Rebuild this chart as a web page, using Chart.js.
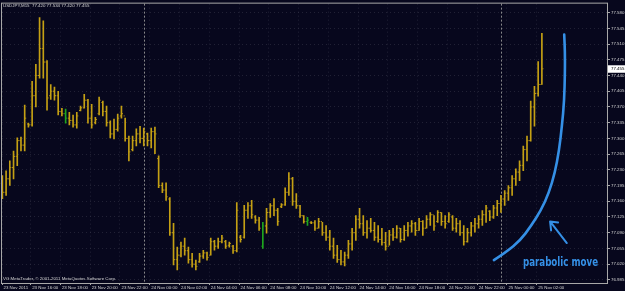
<!DOCTYPE html>
<html><head><meta charset="utf-8">
<script src="https://cdn.jsdelivr.net/npm/chart.js@4/dist/chart.umd.min.js"></script>
<style>html,body{margin:0;padding:0;background:#07071d;overflow:hidden}#wrap{position:relative;width:625px;height:291px}</style>
</head><body><div id="wrap"><canvas id="c" width="625" height="291"></canvas></div>
<script>
// ---- data (M15 bars, index 0 = 23 Nov 2011 14:30) ----
const symbolLabel = "USDJPY,M15";
const copyrightText = "VG MetaTrader, \u00a9 2001-2011 MetaQuotes Software Corp.";
const opens = [77.200,77.180,77.210,77.235,77.260,77.295,77.285,77.332,77.330,77.395,
77.440,77.500,77.470,77.395,77.405,77.395,77.360,77.355,77.345,77.340,
77.330,77.362,77.368,77.385,77.345,77.335,77.355,77.380,77.360,77.335,
77.310,77.320,77.350,77.350,77.300,77.275,77.295,77.310,77.300,77.310,
77.295,77.315,77.255,77.195,77.185,77.165,77.090,77.030,77.040,77.060,
77.050,77.030,77.020,77.025,77.038,77.045,77.040,77.070,77.060,77.070,
77.070,77.062,77.060,77.050,77.080,77.080,77.140,77.150,77.125,77.118,
77.060,77.105,77.135,77.150,77.140,77.148,77.152,77.180,77.210,77.160,
77.150,77.128,77.115,77.113,77.112,77.100,77.115,77.090,77.080,77.060,
77.040,77.030,77.025,77.040,77.065,77.090,77.120,77.110,77.090,77.100,
77.095,77.080,77.075,77.068,77.060,77.085,77.080,77.100,77.075,77.095,
77.105,77.110,77.095,77.115,77.100,77.120,77.130,77.115,77.135,77.115,
77.115,77.125,77.100,77.110,77.090,77.070,77.090,77.105,77.110,77.120,
77.130,77.138,77.125,77.145,77.155,77.165,77.178,77.190,77.210,77.225,
77.240,77.275,77.295,77.370,77.400,77.420];
const highs = [77.217,77.228,77.250,77.272,77.301,77.303,77.374,77.334,77.427,77.465,
77.569,77.562,77.473,77.420,77.414,77.405,77.367,77.365,77.358,77.352,
77.358,77.372,77.398,77.387,77.376,77.347,77.392,77.383,77.372,77.339,
77.343,77.354,77.372,77.345,77.305,77.305,77.321,77.327,77.323,77.312,
77.323,77.325,77.261,77.201,77.201,77.168,77.111,77.058,77.069,77.078,
77.058,77.044,77.029,77.044,77.051,77.047,77.078,77.073,77.078,77.084,
77.073,77.069,77.062,77.157,77.084,77.151,77.157,77.162,77.128,77.124,
77.113,77.144,77.155,77.166,77.144,77.155,77.190,77.224,77.213,77.177,
77.151,77.128,77.124,77.115,77.117,77.122,77.113,77.106,77.095,77.078,
77.062,77.051,77.047,77.073,77.100,77.128,77.144,77.128,77.117,77.122,
77.113,77.106,77.100,77.091,77.095,77.100,77.106,77.100,77.106,77.113,
77.117,77.113,77.122,77.117,77.128,77.135,77.128,77.139,77.135,77.128,
77.135,77.128,77.122,77.117,77.106,77.100,77.113,77.122,77.128,77.139,
77.151,77.139,77.151,77.162,77.173,77.184,77.195,77.217,77.232,77.250,
77.283,77.305,77.383,77.416,77.471,77.534];
const lows = [77.166,77.173,77.195,77.210,77.239,77.272,77.272,77.325,77.327,77.370,
77.434,77.434,77.363,77.387,77.385,77.352,77.350,77.334,77.330,77.325,
77.323,77.361,77.367,77.334,77.323,77.332,77.352,77.350,77.327,77.301,
77.299,77.316,77.345,77.294,77.250,77.272,77.283,77.290,77.283,77.283,
77.279,77.266,77.190,77.179,77.162,77.084,77.018,77.007,77.036,77.040,
77.022,77.013,77.007,77.024,77.033,77.029,77.040,77.051,77.055,77.067,
77.055,77.058,77.044,77.047,77.069,77.078,77.122,77.122,77.111,77.095,
77.055,77.089,77.124,77.128,77.106,77.146,77.151,77.173,77.151,77.144,
77.124,77.111,77.106,77.110,77.095,77.100,77.084,77.073,77.051,77.033,
77.024,77.018,77.016,77.033,77.051,77.073,77.100,77.084,77.078,77.091,
77.073,77.069,77.062,77.051,77.062,77.073,77.078,77.069,77.073,77.082,
77.091,77.084,77.095,77.084,77.100,77.106,77.095,77.113,77.106,77.100,
77.113,77.095,77.091,77.084,77.062,77.069,77.082,77.091,77.100,77.106,
77.113,77.117,77.122,77.128,77.135,77.151,77.162,77.173,77.195,77.206,
77.228,77.250,77.294,77.327,77.394,77.420];
const closes = [77.180,77.210,77.235,77.260,77.295,77.285,77.345,77.330,77.395,77.440,
77.500,77.470,77.390,77.405,77.395,77.360,77.355,77.345,77.340,77.330,
77.350,77.368,77.385,77.345,77.330,77.342,77.385,77.360,77.335,77.310,
77.320,77.345,77.355,77.300,77.270,77.295,77.310,77.300,77.315,77.295,
77.315,77.310,77.195,77.185,77.170,77.090,77.030,77.040,77.060,77.050,
77.030,77.020,77.015,77.038,77.045,77.035,77.070,77.060,77.070,77.078,
77.060,77.066,77.050,77.140,77.075,77.140,77.150,77.130,77.118,77.100,
77.105,77.135,77.150,77.140,77.115,77.152,77.180,77.210,77.160,77.150,
77.128,77.115,77.118,77.112,77.100,77.115,77.090,77.080,77.060,77.040,
77.030,77.025,77.040,77.065,77.090,77.120,77.110,77.090,77.100,77.095,
77.080,77.075,77.068,77.060,77.085,77.080,77.100,77.075,77.095,77.105,
77.110,77.095,77.115,77.100,77.120,77.130,77.105,77.135,77.115,77.110,
77.130,77.100,77.110,77.090,77.070,77.090,77.105,77.110,77.120,77.130,
77.145,77.125,77.145,77.155,77.165,77.178,77.190,77.210,77.225,77.240,
77.275,77.295,77.370,77.400,77.420,77.455];
const greenBars = [17, 70, 82];
const yTickValues = [77.580,77.545,77.510,77.475,77.440,77.405,77.370,77.335,77.300,77.265,77.230,77.195,77.160,77.125,77.090,77.055,77.020,76.985];
const xTickLabels = ["23 Nov 2011","23 Nov 16:00","23 Nov 18:00","23 Nov 20:00","23 Nov 22:00","24 Nov 00:00","24 Nov 02:00","24 Nov 04:00","24 Nov 06:00","24 Nov 08:00","24 Nov 10:00","24 Nov 12:00","24 Nov 14:00","24 Nov 16:00","24 Nov 18:00","24 Nov 20:00","24 Nov 22:00","25 Nov 00:00","25 Nov 02:00"];
const xTickBars = [0,6,14,22,30,38,46,54,62,70,78,86,94,102,110,118,126,134,142];
const daySeparatorBars = [38, 134];
// hand-drawn annotation (bar index, price)
const curveBars   = [132.1,135.4,139.2,142.0,144.7,146.9,148.5,149.6,150.4,151.0,151.2,151.2,151.0];
const curvePrices = [77.029,77.047,77.073,77.104,77.139,77.179,77.224,77.272,77.328,77.383,77.449,77.493,77.531];
const arrowTail = [151.7, 77.067], arrowHead = [147.2, 77.115];
const annotationText = "parabolic move";
const annotationStart = [139.9, 77.024], annotationEndBar = 160.1;

// ---- styles ----
const BG = '#07071d', GOLD = 'rgb(196,160,20)', GREEN = 'rgb(30,165,30)';
const TEXT = '#d4d4d4', FRAME = '#a8a8a8', GRID = 'rgba(70,70,88,0.42)', BLUE = '#3590e6';
const FONT = "'Liberation Sans', Arial, sans-serif";
const last = closes.length - 1;

const bgPlugin = { id:'bg', beforeDraw(ch){ const c=ch.ctx; c.save(); c.fillStyle=BG; c.fillRect(0,0,ch.width,ch.height); c.restore(); } };
const sepPlugin = { id:'sep', beforeDatasetsDraw(ch){
  const {ctx, chartArea:a, scales:{x}} = ch; ctx.save();
  ctx.strokeStyle='rgba(150,150,150,0.9)'; ctx.lineWidth=1; ctx.setLineDash([2,2]);
  daySeparatorBars.forEach(b=>{ const px=Math.round(x.getPixelForValue(b))+0.5; ctx.beginPath(); ctx.moveTo(px,a.top); ctx.lineTo(px,a.bottom); ctx.stroke(); });
  ctx.restore(); } };
const ticksPlugin = { id:'oc', afterDatasetsDraw(ch){
  const {ctx, scales:{x,y}} = ch; ctx.save();
  for (let i=0;i<opens.length;i++){
    const px = x.getPixelForValue(i);
    ctx.fillStyle = greenBars.includes(i) ? GREEN : GOLD;
    ctx.fillRect(px-1.5, y.getPixelForValue(opens[i])-0.5, 1, 1);
    ctx.fillRect(px+0.5, y.getPixelForValue(closes[i])-0.5, 1, 1);
  }
  ctx.restore(); } };
const overlayPlugin = { id:'overlay', afterDraw(ch){
  const {ctx, chartArea:a, scales:{x,y}} = ch; ctx.save();
  ctx.strokeStyle=FRAME; ctx.lineWidth=1; ctx.strokeRect(a.left-0.5,a.top-0.5,a.right-a.left+1,a.bottom-a.top+1);
  ctx.fillStyle=TEXT; ctx.font='4.4px '+FONT; ctx.textBaseline='middle'; ctx.textAlign='left';
  ctx.fillText(symbolLabel+'  '+[opens[last],highs[last],lows[last],closes[last]].map(v=>v.toFixed(3)).join(' '), 3, 5.5);
  ctx.fillText(copyrightText, 3, 279);
  const py = y.getPixelForValue(closes[last]);
  ctx.fillStyle='#ffffff'; ctx.fillRect(a.right+1, py-3.5, ch.width-a.right-1, 7.5);
  ctx.fillStyle='#000000'; ctx.fillText(closes[last].toFixed(3), a.right+4, py+0.3);
  const pts = curveBars.map((b,k)=>[x.getPixelForValue(b), y.getPixelForValue(curvePrices[k])]);
  ctx.strokeStyle=BLUE; ctx.lineWidth=2.6; ctx.lineCap='round'; ctx.lineJoin='round';
  ctx.beginPath(); ctx.moveTo(pts[0][0],pts[0][1]);
  for (let k=1;k<pts.length-1;k++){ const mx=(pts[k][0]+pts[k+1][0])/2, my=(pts[k][1]+pts[k+1][1])/2; ctx.quadraticCurveTo(pts[k][0],pts[k][1],mx,my); }
  ctx.lineTo(pts[pts.length-1][0],pts[pts.length-1][1]); ctx.stroke();
  const tx=x.getPixelForValue(arrowTail[0]), ty=y.getPixelForValue(arrowTail[1]);
  const hx=x.getPixelForValue(arrowHead[0]), hy=y.getPixelForValue(arrowHead[1]);
  ctx.lineWidth=2; ctx.beginPath(); ctx.moveTo(tx,ty); ctx.lineTo(hx,hy); ctx.moveTo(hx+8,hy+1); ctx.lineTo(hx,hy); ctx.lineTo(hx+1,hy+9); ctx.stroke();
  const sx=x.getPixelForValue(annotationStart[0]), sy=y.getPixelForValue(annotationStart[1]);
  const ex=x.getPixelForValue(annotationEndBar);
  ctx.font="bold 13px 'Liberation Sans Narrow','DejaVu Sans Condensed',"+FONT; ctx.fillStyle=BLUE; ctx.textBaseline='middle';
  const w=ctx.measureText(annotationText).width; ctx.translate(sx,sy); ctx.scale((ex-sx)/w,1); ctx.fillText(annotationText,0,0);
  ctx.restore(); } };

new Chart(document.getElementById('c'), {
  type:'bar',
  data:{ datasets:[{ data: highs.map((h,i)=>({x:i, y:[lows[i],h]})),
    backgroundColor: highs.map((h,i)=>greenBars.includes(i)?GREEN:GOLD), borderWidth:0, barThickness:1 }]},
  options:{
    responsive:false, animation:false, devicePixelRatio:1,
    layout:{padding:{left:2,top:2,right:0,bottom:0}},
    plugins:{legend:{display:false}, tooltip:{enabled:false}},
    scales:{
      x:{ type:'linear', min:-0.1, max:162.5, offset:false,
        afterBuildTicks:s=>{ s.ticks = xTickBars.map((b,k)=>({value: k===0 ? s.min : b+1.6})); },
        afterFit:s=>{ s.height = 8; },
        ticks:{ callback:(v,k)=>xTickLabels[k], autoSkip:false, maxRotation:0, minRotation:0, align:'start', labelOffset:1.5, padding:0, color:TEXT, font:{size:4.4, family:FONT} },
        grid:{ offset:false, color:GRID, lineWidth:1, tickLength:2, tickColor:FRAME, tickBorderDash:[2,0] },
        border:{ display:false, dash:[1,3] } },
      y:{ type:'linear', position:'right', min:76.978, max:77.600,
        afterBuildTicks:s=>{ s.ticks = yTickValues.map(v=>({value:v})); },
        afterFit:s=>{ s.width = 18; },
        ticks:{ callback:v=>v.toFixed(3), autoSkip:false, padding:1, color:TEXT, font:{size:4.4, family:FONT} },
        grid:{ color:GRID, lineWidth:1, tickLength:3, tickColor:FRAME, tickBorderDash:[2,0] },
        border:{ display:false, dash:[1,3] } }
    }
  },
  plugins:[bgPlugin, sepPlugin, ticksPlugin, overlayPlugin]
});
</script></body></html>
